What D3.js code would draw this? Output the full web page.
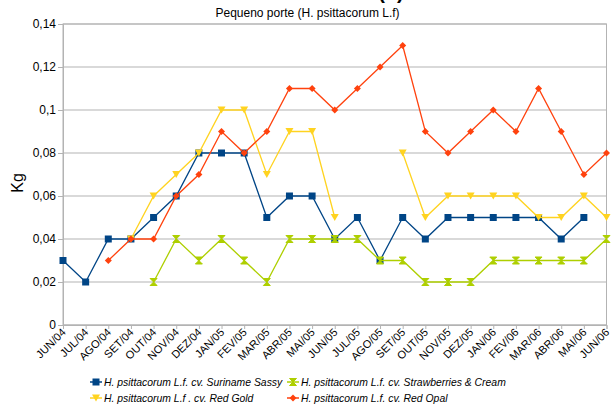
<!DOCTYPE html>
<html><head><meta charset="utf-8">
<script src="https://cdn.jsdelivr.net/npm/d3@7"></script>
<style>html,body{margin:0;padding:0;background:#fff;}svg{display:block;font-family:"Liberation Sans",Arial,sans-serif;}</style>
</head><body><svg id="c" width="615" height="408"></svg>
<script>
const months = ["JUN/04","JUL/04","AGO/04","SET/04","OUT/04","NOV/04","DEZ/04","JAN/05","FEV/05","MAR/05","ABR/05","MAI/05","JUN/05","JUL/05","AGO/05","SET/05","OUT/05","NOV/05","DEZ/05","JAN/06","FEV/06","MAR/06","ABR/06","MAI/06","JUN/06"];
const surinameSassy = [0.03,0.02,0.04,0.04,0.05,0.06,0.08,0.08,0.08,0.05,0.06,0.06,0.04,0.05,0.03,0.05,0.04,0.05,0.05,0.05,0.05,0.05,0.04,0.05,null];
const strawberriesCream = [null,null,null,null,0.02,0.04,0.03,0.04,0.03,0.02,0.04,0.04,0.04,0.04,0.03,0.03,0.02,0.02,0.02,0.03,0.03,0.03,0.03,0.03,0.04];
const redGold = [null,null,null,0.04,0.06,0.07,0.08,0.1,0.1,0.07,0.09,0.09,0.05,null,null,0.08,0.05,0.06,0.06,0.06,0.06,0.05,0.05,0.06,0.05];
const redOpal = [null,null,0.03,0.04,0.04,0.06,0.07,0.09,0.08,0.09,0.11,0.11,0.1,0.11,0.12,0.13,0.09,0.08,0.09,0.1,0.09,0.11,0.09,0.07,0.08];
const yTicks = [0,0.02,0.04,0.06,0.08,0.1,0.12,0.14];
const seriesNames = ["H. psittacorum L.f. cv. Suriname Sassy","H. psittacorum L.f. cv. Strawberries & Cream","H. psittacorum L.f . cv. Red Gold","H. psittacorum L.f. cv. Red Opal"];
const colors = ["#004586","#aecf00","#ffd320","#ff420e"];
const shapes = ["square","sandglass","down","diamond"];
const title = "Pequeno porte (H. psittacorum L.f)";
const yTitle = "Kg";

const series = [surinameSassy, strawberriesCream, redGold, redOpal].map((v,i)=>({name:seriesNames[i],values:v,color:colors[i],shape:shapes[i]}));

const svg = d3.select("#c");
const L = 63, R = 606.5, T = 24, B = 325;
const x = d3.scalePoint().domain(months).range([L, R]);
const y = d3.scaleLinear().domain([0, 0.14]).range([B, T]);
const fmt = d => String(d).replace(".", ",");

// main title, cut off at the top edge as in the reference
svg.append("text").attr("x", 391).attr("y", -1).attr("text-anchor","middle")
  .attr("font-size", 20).attr("font-weight","bold").attr("fill","#000").text("(b)");
svg.append("text").attr("x", 307.5).attr("y", 17).attr("text-anchor","middle")
  .attr("font-size", 12).attr("fill","#000").text(title);

// gridlines
svg.append("g").selectAll("line").data(yTicks).join("line")
  .attr("x1", L).attr("x2", R).attr("y1", d=>y(d)).attr("y2", d=>y(d))
  .attr("stroke","#b3b3b3").attr("stroke-width",1);
svg.append("rect").attr("x",L).attr("y",T).attr("width",R-L).attr("height",B-T)
  .attr("fill","none").attr("stroke","#b3b3b3").attr("stroke-width",1);

// y axis
const ya = svg.append("g").attr("transform",`translate(${L},0)`)
  .call(d3.axisLeft(y).tickValues(yTicks).tickFormat(fmt).tickSize(5).tickPadding(2));
ya.select(".domain").attr("stroke","#b3b3b3");
ya.selectAll(".tick line").attr("stroke","#b3b3b3");
ya.selectAll("text").attr("font-size",12).attr("fill","#000").attr("font-family","Liberation Sans, Arial, sans-serif");

// x axis
const xa = svg.append("g").attr("transform",`translate(0,${B})`)
  .call(d3.axisBottom(x).tickSize(4).tickPadding(2));
xa.select(".domain").attr("stroke","#b3b3b3");
xa.selectAll(".tick line").attr("stroke","#b3b3b3");
xa.selectAll("text").attr("font-size",11).attr("fill","#000")
  .attr("font-family","Liberation Sans, Arial, sans-serif")
  .attr("text-anchor","end").attr("dy","0").attr("y",0)
  .attr("transform","translate(3,8) rotate(-45)");

// y title
svg.append("text").attr("transform","translate(23,183) rotate(-90)")
  .attr("text-anchor","middle").attr("font-size",16).attr("fill","#000").text(yTitle);

function markerPath(shape){
  switch(shape){
    case "square": return "M-3.5,-3.5H3.5V3.5H-3.5Z";
    case "sandglass": return "M-3.5,-3.5H3.5L-3.5,3.5H3.5Z";
    case "down": return "M-4,-3.5H4L0,3.5Z";
    case "diamond": return "M0,-3.5L3.5,0L0,3.5L-3.5,0Z";
  }
}

const line = d3.line().defined(d=>d.v!=null).x(d=>x(d.m)).y(d=>y(d.v));
series.forEach(s=>{
  const pts = s.values.map((v,i)=>({m:months[i],v}));
  svg.append("path").datum(pts).attr("d",line).attr("fill","none")
    .attr("stroke",s.color).attr("stroke-width",1.3);
  svg.append("g").selectAll("path").data(pts.filter(d=>d.v!=null)).join("path")
    .attr("transform",d=>`translate(${x(d.m)},${y(d.v)})`)
    .attr("d",markerPath(s.shape)).attr("fill",s.color)
    .attr("stroke",s.shape==="sandglass"?s.color:"none").attr("stroke-width",1);
});

// legend
const legPos = [[90,382],[287,382],[90,398],[287,398]];
series.forEach((s,i)=>{
  const [lx,ly] = legPos[i];
  const g = svg.append("g").attr("transform",`translate(${lx},${ly})`);
  g.append("line").attr("x1",0).attr("x2",12).attr("y1",0).attr("y2",0).attr("stroke",s.color).attr("stroke-width",1.5);
  g.append("path").attr("transform","translate(6,0)").attr("d",markerPath(s.shape)).attr("fill",s.color)
    .attr("stroke",s.shape==="sandglass"?s.color:"none");
  g.append("text").attr("x",14).attr("y",4).attr("font-size",10.4).attr("font-style","italic")
    .attr("fill","#000").text(s.name);
});
</script></body></html>
